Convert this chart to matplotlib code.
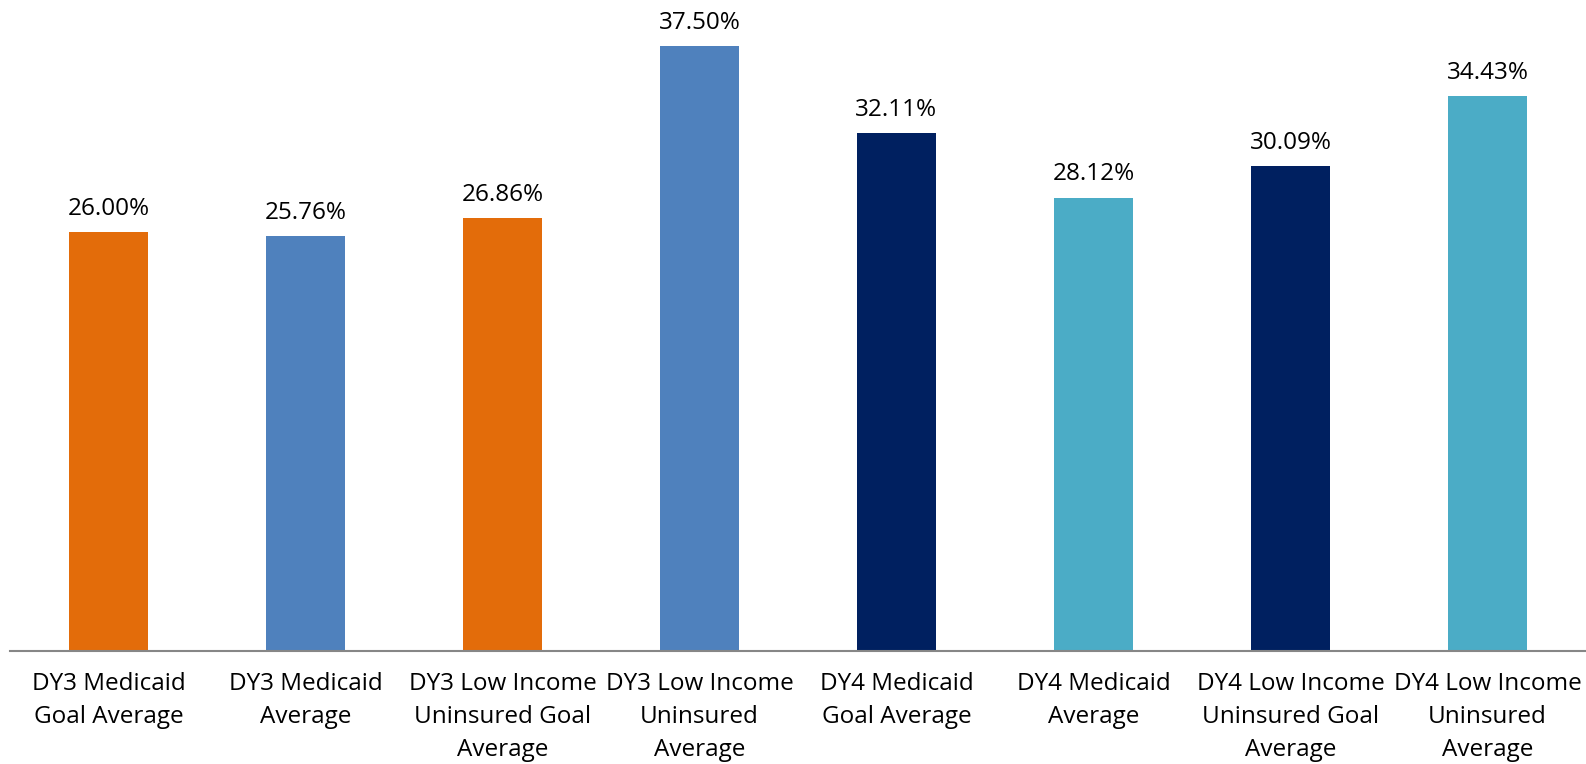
import matplotlib
matplotlib.use("Agg")
import matplotlib.pyplot as plt

categories = ["DY3 Medicaid\nGoal Average", "DY3 Medicaid\nAverage",
              "DY3 Low Income\nUninsured Goal\nAverage", "DY3 Low Income\nUninsured\nAverage",
              "DY4 Medicaid\nGoal Average", "DY4 Medicaid\nAverage",
              "DY4 Low Income\nUninsured Goal\nAverage", "DY4 Low Income\nUninsured\nAverage"]
values = [26.00, 25.76, 26.86, 37.50, 32.11, 28.12, 30.09, 34.43]
colors = ["#E36C0A", "#4F81BD", "#E36C0A", "#4F81BD", "#002060", "#4BACC6", "#002060", "#4BACC6"]

plt.rcParams['font.family'] = ['Open Sans', 'DejaVu Sans']
fig = plt.figure(figsize=(15.86, 7.64), dpi=100)
ax = fig.add_axes([10/1586, 113/764, 1576/1586, 645/764])
x = range(len(values))
bars = ax.bar(x, values, width=0.4, color=colors)
for xi, v in zip(x, values):
    ax.annotate(f"{v:.2f}%", (xi, v), xytext=(0, 8), textcoords="offset points",
                ha="center", va="bottom", fontsize=17.5, color="#000000")
ax.set_xlim(-0.5, len(values) - 0.5)
ax.set_ylim(0, 40)
ax.set_xticks(list(x))
ax.set_xticklabels(categories, fontsize=17.5, linespacing=1.5)
ax.tick_params(axis="x", length=0, pad=15)
ax.set_yticks([])
for s in ["top", "right", "left"]:
    ax.spines[s].set_visible(False)
ax.spines["bottom"].set_color("#868686")
ax.spines["bottom"].set_linewidth(1.5)
fig.savefig("out.png", dpi=100)
